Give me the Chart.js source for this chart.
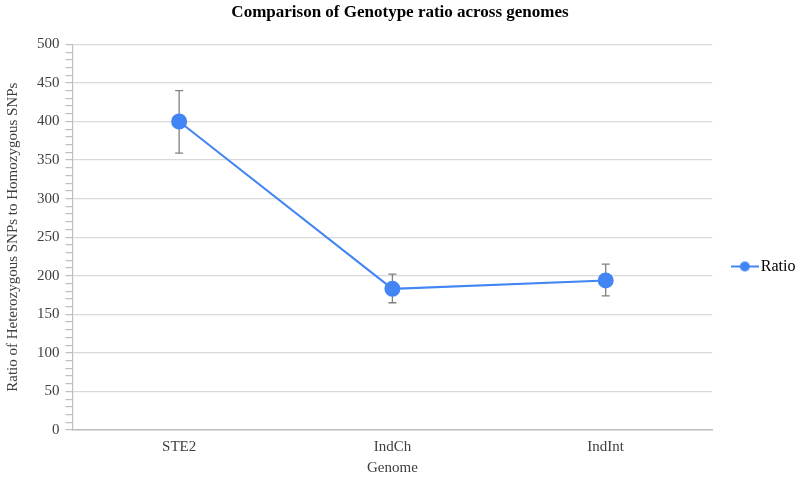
<!DOCTYPE html>
<html>
<head>
<meta charset="utf-8">
<script src="https://cdn.jsdelivr.net/npm/chart.js@4/dist/chart.umd.min.js"></script>
<style>
html,body{margin:0;padding:0;background:#fff;}
#wrap{width:796px;height:478px;}
</style>
</head>
<body>
<div id="wrap"><canvas id="c" width="796" height="478"></canvas></div>
<script>
const categories = ['STE2', 'IndCh', 'IndInt'];
const ratioValues = [400, 183, 194];
const errorLow = [359, 165, 174];
const errorHigh = [440, 202, 215];
const yTickMax = 500;

const blue = '#4285F4';

const errorBarPlugin = {
  id: 'errorBars',
  beforeDatasetsDraw(chart) {
    const ctx = chart.ctx;
    const x = chart.scales.x, y = chart.scales.y;
    ctx.save();
    ctx.strokeStyle = '#808080';
    ctx.lineWidth = 1.3;
    categories.forEach((c, i) => {
      const px = x.getPixelForValue(i);
      const top = y.getPixelForValue(errorHigh[i]);
      const bot = y.getPixelForValue(errorLow[i]);
      ctx.beginPath();
      ctx.moveTo(px, top); ctx.lineTo(px, bot);
      ctx.moveTo(px - 4, top); ctx.lineTo(px + 4, top);
      ctx.moveTo(px - 4, bot); ctx.lineTo(px + 4, bot);
      ctx.stroke();
    });
    ctx.restore();
  }
};

const legendShift = {
  id: 'legendShift',
  afterLayout(chart) {
    const l = chart.legend;
    if (l) { l.top += 28; l.bottom += 28; l.left += 9.5; l.right += 9.5; }
  }
};

function legendIcon() {
  const cv = document.createElement('canvas');
  cv.width = 28; cv.height = 14;
  const g = cv.getContext('2d');
  g.strokeStyle = blue; g.lineWidth = 2;
  g.beginPath(); g.moveTo(0, 7); g.lineTo(28, 7); g.stroke();
  g.fillStyle = blue;
  g.beginPath(); g.arc(14, 7, 5, 0, Math.PI * 2); g.fill();
  return cv;
}

new Chart(document.getElementById('c'), {
  type: 'line',
  data: {
    labels: categories,
    datasets: [{
      label: 'Ratio',
      data: ratioValues,
      borderColor: blue,
      backgroundColor: blue,
      borderWidth: 2,
      pointRadius: 7,
      pointHoverRadius: 7,
      pointBackgroundColor: blue,
      pointBorderColor: blue,
      tension: 0
    }]
  },
  options: {
    responsive: false,
    animation: false,
    devicePixelRatio: 1,
    layout: { padding: { left: 4, right: 0, top: 0, bottom: 1 } },
    plugins: {
      title: {
        display: true,
        text: 'Comparison of Genotype ratio across genomes',
        font: { family: 'Liberation Serif', size: 17, weight: 'bold' },
        color: '#000',
        padding: { top: 2, bottom: 22 }
      },
      legend: {
        position: 'right',
        labels: {
          usePointStyle: true,
          font: { family: 'Liberation Serif', size: 16 },
          color: '#404040',
          padding: 15,
          generateLabels(chart) {
            return [{
              text: 'Ratio',
              pointStyle: legendIcon(),
              fillStyle: blue,
              strokeStyle: blue,
              lineWidth: 0,
              datasetIndex: 0,
              hidden: false
            }];
          }
        }
      },
      tooltip: { enabled: false }
    },
    scales: {
      x: {
        offset: true,
        grid: { display: false, drawTicks: false },
        border: { display: true, color: '#bfbfbf', width: 1.5 },
        ticks: { font: { family: 'Liberation Serif', size: 15 }, color: '#404040', padding: 8 },
        title: {
          display: true, text: 'Genome',
          font: { family: 'Liberation Serif', size: 15 }, color: '#404040', padding: { top: -5, bottom: 0 }
        }
      },
      y: {
        min: 0, max: yTickMax,
        grid: {
          color: ctx => (ctx.tick && ctx.tick.value % 50 === 0) ? '#d9d9d9' : 'rgba(0,0,0,0)',
          tickColor: '#bfbfbf',
          tickLength: 7,
          lineWidth: 1.2
        },
        border: { display: true, color: '#bfbfbf', width: 1.2 },
        ticks: {
          stepSize: 10,
          autoSkip: false,
          font: { family: 'Liberation Serif', size: 15 },
          color: '#404040',
          padding: 6,
          callback: v => (v % 50 === 0 ? String(v) : '')
        },
        title: {
          display: true, text: 'Ratio of Heterozygous SNPs to Homozygous SNPs',
          font: { family: 'Liberation Serif', size: 15 }, color: '#404040', padding: { top: 0, bottom: 9 }
        }
      }
    }
  },
  plugins: [errorBarPlugin, legendShift]
});
</script>
</body>
</html>
